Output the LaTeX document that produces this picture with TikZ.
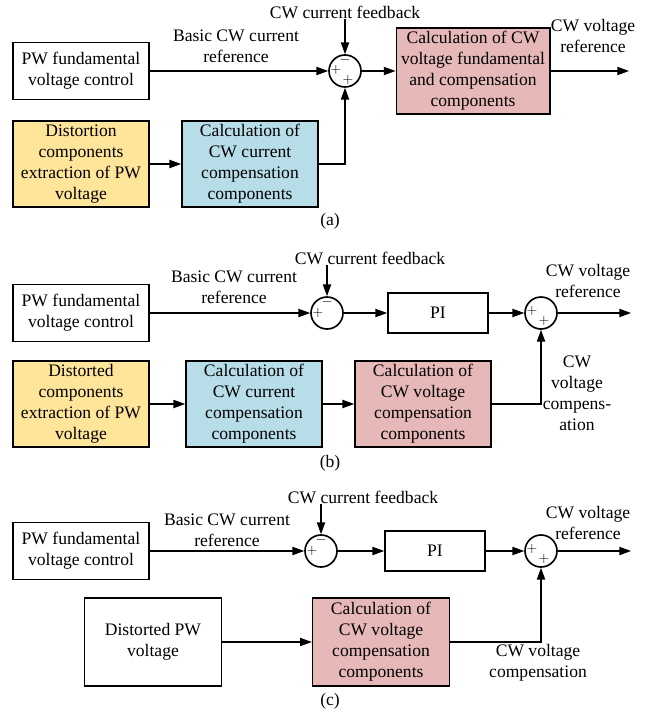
\documentclass[tikz,border=0pt]{standalone}
\usepackage{fontspec}
\setmainfont{Liberation Serif}
\usetikzlibrary{arrows.meta}
\definecolor{distyellow}{HTML}{FFE599}
\definecolor{calcblue}{HTML}{B7DEE8}
\definecolor{calcpink}{HTML}{E6B8B7}

\begin{document}
\begin{tikzpicture}[x=0.03cm, y=-0.03cm,
    every node/.style={font=\fontsize{15}{18}\selectfont},
    box/.style={draw, line width=1.4pt, align=center, minimum width=4.08cm, minimum height=2.58cm, inner sep=0pt},
    ctrlbox/.style={box, minimum height=1.71cm},
    pibox/.style={box, minimum width=3cm, minimum height=1.2cm},
    sumnode/.style={circle, draw, line width=1.4pt, minimum size=0.96cm, inner sep=0pt},
    sgn/.style={font=\fontsize{12}{12}\selectfont, inner sep=0pt},
    lbl/.style={align=center, inner sep=0pt},
    arr/.style={line width=1pt, -{Triangle[length=10pt, width=7pt]}}]
  \useasboundingbox (0,0) rectangle (648,712);

  % (a) current reference with compensation
  \node[ctrlbox] (pwa) at (81,71) {PW fundamental\\voltage control};
  \node[sumnode] (suma) at (345,71) {};
  \node[box, fill=calcpink, minimum width=4.6cm] (cala) at (473,71) {Calculation of CW\\voltage fundamental\\and compensation\\components};
  \node[box, fill=distyellow] (dista) at (81,164) {Distortion\\components\\extraction of PW\\voltage};
  \node[box, fill=calcblue] (curra) at (250,164) {Calculation of\\CW current\\compensation\\components};
  \node[lbl] (fba) at (345,12) {CW current feedback};
  \node[lbl] (basea) at (236,46) {Basic CW current\\reference};
  \node[lbl] (refa) at (593,36) {CW voltage\\reference};
  \coordinate (outa) at (629,71);
  \node[lbl] (capa) at (330,221) {(a)};

  % signs
  \node[sgn] at ([shift={(0,-11)}]suma.center) {$-$};
  \node[sgn] at ([shift={(-9,-1)}]suma.center) {$+$};
  \node[sgn] at ([shift={(3,9)}]suma.center) {$+$};

  \draw[arr] (fba) -- (suma);
  \draw[arr] (pwa) -- (suma);
  \draw[arr] (dista) -- (curra);
  \draw[arr] (curra) -| (suma);
  \draw[arr] (suma) -- (cala);
  \draw[arr] (cala) -- (outa);

  % (b) PI with voltage compensation
  \node[ctrlbox] (pwb) at (81,313) {PW fundamental\\voltage control};
  \node[sumnode] (sumb) at (327,313) {};
  \node[pibox] (pib) at (438,313) {PI};
  \node[sumnode] (addb) at (541,313) {};
  \node[box, fill=distyellow] (distb) at (81,404) {Distorted\\components\\extraction of PW\\voltage};
  \node[box, fill=calcblue] (currb) at (254,404) {Calculation of\\CW current\\compensation\\components};
  \node[box, fill=calcpink] (voltb) at (423,404) {Calculation of\\CW voltage\\compensation\\components};
  \node[lbl] (fbb) at (370,258) {CW current feedback};
  \node[lbl] (baseb) at (234,287) {Basic CW current\\reference};
  \node[lbl] (refb) at (588,281) {CW voltage\\reference};
  \node[lbl] (compb) at (577,393) {CW\\voltage\\compens-\\ation};
  \coordinate (outb) at (631,313);
  \node[lbl] (capb) at (330,463) {(b)};

  % signs
  \node[sgn] at ([shift={(0,-11)}]sumb.center) {$-$};
  \node[sgn] at ([shift={(-9,0)}]sumb.center) {$+$};
  \node[sgn] at ([shift={(-9,-2)}]addb.center) {$+$};
  \node[sgn] at ([shift={(3,8)}]addb.center) {$+$};

  \draw[arr] (fbb.south -| sumb) -- (sumb);
  \draw[arr] (pwb) -- (sumb);
  \draw[arr] (sumb) -- (pib);
  \draw[arr] (pib) -- (addb);
  \draw[arr] (addb) -- (outb);
  \draw[arr] (distb) -- (currb);
  \draw[arr] (currb) -- (voltb);
  \draw[arr] (voltb) -| (addb);

  % (c) distorted voltage directly
  \node[ctrlbox] (pwc) at (81,551) {PW fundamental\\voltage control};
  \node[sumnode] (sumc) at (321,551) {};
  \node[pibox] (pic) at (435,551) {PI};
  \node[sumnode] (addc) at (541,551) {};
  \node[box, minimum width=4.1cm, minimum height=2.64cm] (distc) at (153,642) {Distorted PW\\voltage};
  \node[box, fill=calcpink, minimum width=4.1cm, minimum height=2.64cm] (voltc) at (381,642) {Calculation of\\CW voltage\\compensation\\components};
  \node[lbl] (fbc) at (363,497) {CW current feedback};
  \node[lbl] (basec) at (227,530) {Basic CW current\\reference};
  \node[lbl] (refc) at (588,523) {CW voltage\\reference};
  \node[lbl] (compc) at (538,663) {CW voltage\\compensation};
  \coordinate (outc) at (631,551);
  \node[lbl] (capc) at (330,701) {(c)};

  % signs
  \node[sgn] at ([shift={(0,-11)}]sumc.center) {$-$};
  \node[sgn] at ([shift={(-9,0)}]sumc.center) {$+$};
  \node[sgn] at ([shift={(-9,-2)}]addc.center) {$+$};
  \node[sgn] at ([shift={(3,8)}]addc.center) {$+$};

  \draw[arr] (fbc.south -| sumc) -- (sumc);
  \draw[arr] (pwc) -- (sumc);
  \draw[arr] (sumc) -- (pic);
  \draw[arr] (pic) -- (addc);
  \draw[arr] (addc) -- (outc);
  \draw[arr] (distc) -- (voltc);
  \draw[arr] (voltc) -| (addc);
\end{tikzpicture}
\end{document}
